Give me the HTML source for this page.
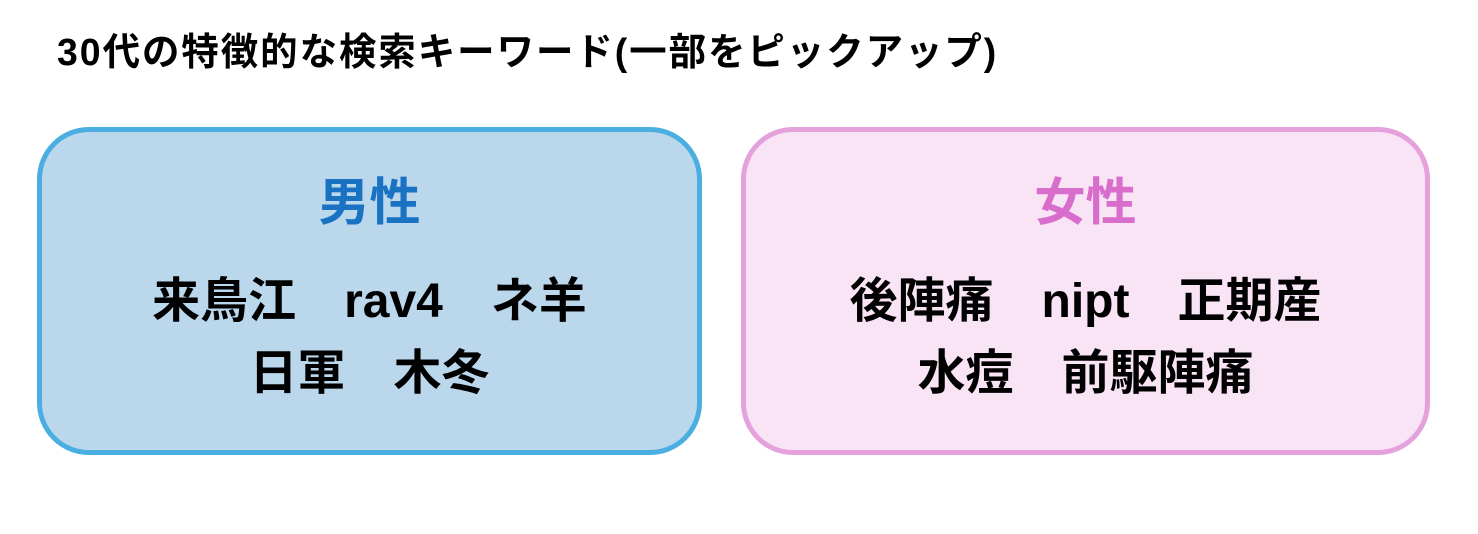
<!DOCTYPE html>
<html><head><meta charset="utf-8"><style>
body{margin:0;width:1478px;height:534px;background:#fff;position:relative;overflow:hidden;font-family:"Liberation Sans","Noto Sans CJK JP",sans-serif;font-weight:bold}
.t{position:absolute;left:57px;top:30px;font-size:38px;letter-spacing:2px;line-height:46px;white-space:nowrap;transform:scaleX(0.985);transform-origin:left}
.box{position:absolute;top:127px;height:318px;border-radius:52px;border:5px solid}
.b1{left:37px;width:655px;background:#bad7ec;border-color:#4aafe0}
.b2{left:741px;width:679px;background:#f9e4f6;border-color:#e4a1dc}
.h{position:absolute;left:0;right:0;top:41px;text-align:center;font-size:51px;line-height:60px}
.k{position:absolute;left:0;right:0;text-align:center;font-size:48px;line-height:58px;white-space:nowrap;color:#000}
</style></head><body>
<div class="t">30代の特徴的な検索キーワード(一部をピックアップ)</div>
<div class="box b1">
<div class="h" style="color:#1a72c2">男性</div>
<div class="k" style="top:141px">来鳥江　rav4　ネ羊</div>
<div class="k" style="top:213px">日軍　木冬</div>
</div>
<div class="box b2">
<div class="h" style="color:#d86dcc">女性</div>
<div class="k" style="top:141px">後陣痛　nipt　正期産</div>
<div class="k" style="top:213px">水痘　前駆陣痛</div>
</div>
</body></html>
